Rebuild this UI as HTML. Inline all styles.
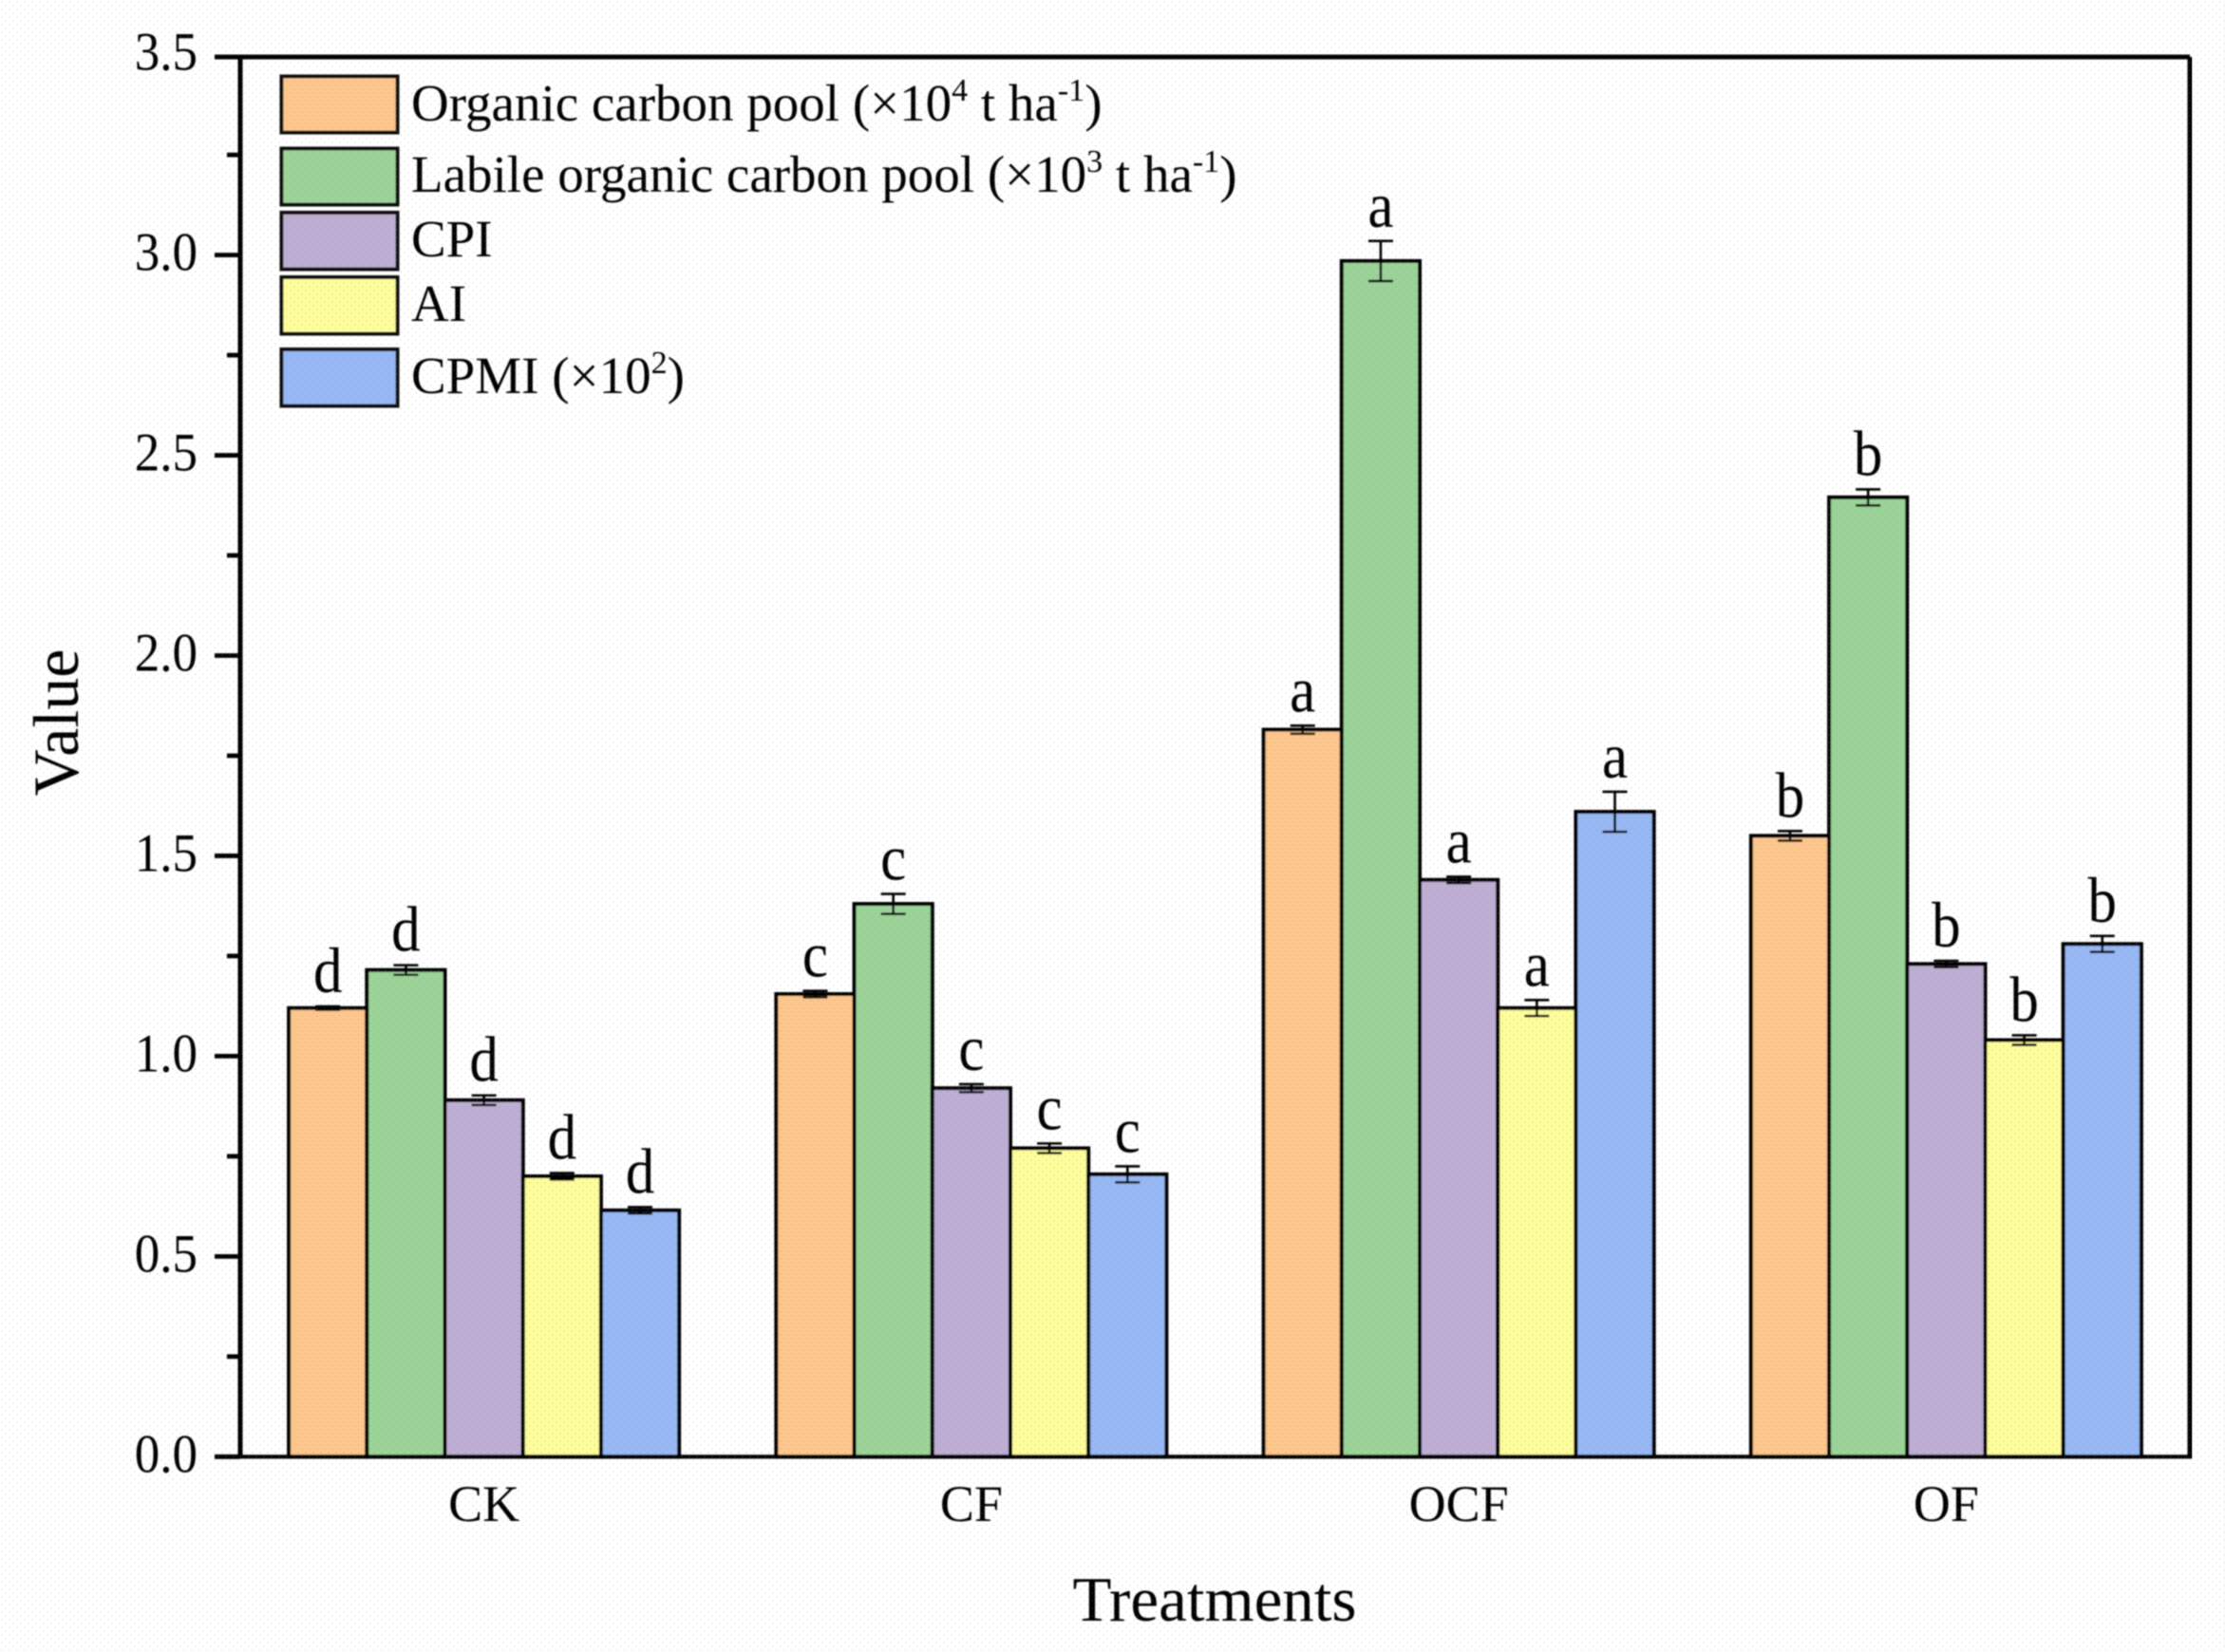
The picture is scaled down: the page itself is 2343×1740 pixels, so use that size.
<!DOCTYPE html>
<html lang="en">
<head>
<meta charset="utf-8">
<title>Carbon pool indices by treatment</title>
<style>
html,body{margin:0;padding:0;background:#fff;}
svg{display:block;}
text{font-family:"Liberation Serif","Times New Roman",serif;fill:#000;}
</style>
</head>
<body>
<svg id="chart" xmlns="http://www.w3.org/2000/svg" width="2343" height="1740" viewBox="0 0 2343 1740">
  <defs>
    <pattern id="dots" width="8" height="8" patternUnits="userSpaceOnUse">
      <circle cx="2" cy="2" r="1.1" fill="#8a8a8a" fill-opacity="0.11"/>
      <circle cx="6" cy="6" r="1.1" fill="#8a8a8a" fill-opacity="0.11"/>
    </pattern>
    <filter id="soft" x="0" y="0" width="100%" height="100%"><feGaussianBlur stdDeviation="0.7"/></filter>
  </defs>
  <rect width="2343" height="1740" fill="#ffffff"/>
  <g id="root" filter="url(#soft)">
    <g id="marks"></g>
    <g id="axes"></g>
    <g id="legend">
      <g>
        <rect x="296.5" y="80.5" width="122" height="59" fill="#fdc68c" stroke="#111" stroke-width="4"/>
        <text x="433" y="127" font-size="55">Organic carbon pool (×10<tspan dy="-21" font-size="34">4</tspan><tspan dy="21"> t ha</tspan><tspan dy="-21" font-size="34">-1</tspan><tspan dy="21">)</tspan></text>
      </g>
      <g>
        <rect x="296.5" y="156.5" width="122" height="59" fill="#9bd398" stroke="#111" stroke-width="4"/>
        <text x="433" y="202" font-size="55">Labile organic carbon pool (×10<tspan dy="-21" font-size="34">3</tspan><tspan dy="21"> t ha</tspan><tspan dy="-21" font-size="34">-1</tspan><tspan dy="21">)</tspan></text>
      </g>
      <g>
        <rect x="296.5" y="224" width="122" height="59.5" fill="#beaed4" stroke="#111" stroke-width="4"/>
        <text x="433" y="270" font-size="55">CPI</text>
      </g>
      <g>
        <rect x="296.5" y="292" width="122" height="59.5" fill="#fefd9c" stroke="#111" stroke-width="4"/>
        <text x="433" y="338" font-size="55">AI</text>
      </g>
      <g>
        <rect x="296.5" y="368" width="122" height="59.5" fill="#97b8f4" stroke="#111" stroke-width="4"/>
        <text x="433" y="414" font-size="55">CPMI (×10<tspan dy="-21" font-size="34">2</tspan><tspan dy="21">)</tspan></text>
      </g>
    </g>
    <text x="1279" y="1707" font-size="67" text-anchor="middle">Treatments</text>
    <text x="0" y="0" font-size="68" text-anchor="middle" transform="translate(82 761) rotate(-90)">Value</text>
  </g>
  <rect width="2343" height="1740" fill="url(#dots)" pointer-events="none"/>
</svg>
<script>
const categories = ["CK", "CF", "OCF", "OF"];
const seriesNames = ["organic", "labile", "cpi", "ai", "cpmi"];
const seriesColors = ["#fdc68c", "#9bd398", "#beaed4", "#fefd9c", "#97b8f4"];
const organicValues = [1.12, 1.155, 1.815, 1.55];
const labileValues = [1.215, 1.38, 2.985, 2.395];
const cpiValues = [0.89, 0.92, 1.44, 1.23];
const aiValues = [0.70, 0.77, 1.12, 1.04];
const cpmiValues = [0.615, 0.705, 1.61, 1.28];
const organicErrors = [0.004, 0.008, 0.010, 0.012];
const labileErrors = [0.012, 0.025, 0.050, 0.020];
const cpiErrors = [0.012, 0.010, 0.008, 0.008];
const aiErrors = [0.008, 0.012, 0.020, 0.012];
const cpmiErrors = [0.008, 0.020, 0.050, 0.020];
const organicLetters = ["d", "c", "a", "b"];
const labileLetters = ["d", "c", "a", "b"];
const cpiLetters = ["d", "c", "a", "b"];
const aiLetters = ["d", "c", "a", "b"];
const cpmiLetters = ["d", "c", "a", "b"];
const majorTicks = [0, 0.5, 1, 1.5, 2, 2.5, 3, 3.5];
const minorTicks = [0.25, 0.75, 1.25, 1.75, 2.25, 2.75, 3.25];
const allValues = [organicValues, labileValues, cpiValues, aiValues, cpmiValues];
const allErrors = [organicErrors, labileErrors, cpiErrors, aiErrors, cpmiErrors];
const allLetters = [organicLetters, labileLetters, cpiLetters, aiLetters, cpmiLetters];

const NS = "http://www.w3.org/2000/svg";
const plot = { left: 253, right: 2306, top: 60, bottom: 1534.3 };
const pxPerUnit = 421.9;
const barWidth = 82.2;
function yScale(v) { return plot.bottom - v * pxPerUnit; }
function categoryCenter(i) { return plot.left + (i + 0.5) * (plot.right - plot.left) / categories.length; }
function barLeft(i, s) { return categoryCenter(i) + (s - seriesNames.length / 2) * barWidth; }
function make(tag, attrs, parent) {
  const el = document.createElementNS(NS, tag);
  for (const k in attrs) el.setAttribute(k, attrs[k]);
  parent.appendChild(el);
  return el;
}
const marks = document.getElementById("marks");
const axes = document.getElementById("axes");

categories.forEach(function (cat, i) {
  seriesNames.forEach(function (name, s) {
    const v = allValues[s][i];
    const e = allErrors[s][i];
    const x = barLeft(i, s);
    const cx = x + barWidth / 2;
    const bar = make("rect", { x: x, y: yScale(v), width: barWidth, height: yScale(0) - yScale(v), fill: seriesColors[s], stroke: "#000", "stroke-width": 4 }, marks);
    
    
    const err = make("path", {
      d: "M" + (cx - 13) + " " + yScale(v + e) + "H" + (cx + 13) +
         "M" + cx + " " + yScale(v + e) + "V" + yScale(v - e) +
         "M" + (cx - 13) + " " + yScale(v - e) + "H" + (cx + 13),
      fill: "none", stroke: "#000", "stroke-width": 2.6
    }, marks);
    
    
    const lab = make("text", { transform: "translate(" + cx + " " + (yScale(v + e) - 15) + ") scale(1 1.12)", "font-size": 61, "text-anchor": "middle" }, marks);
    lab.textContent = allLetters[s][i];
    
    
  });
  const catTick = make("text", { x: categoryCenter(i), y: 1602, "font-size": 54, "text-anchor": "middle" }, axes);
  catTick.textContent = cat;
  
  
});

majorTicks.forEach(function (t) {
  const y = yScale(t);
  const tickY = Math.max(y, plot.top);
  const tick = make("line", { x1: 226, x2: plot.left, y1: tickY, y2: tickY, stroke: "#000", "stroke-width": 4.8 }, axes);
  
  
  const lab = make("text", { transform: "translate(208 " + (y + 16) + ") scale(1 1.08)", "font-size": 53, "text-anchor": "end" }, axes);
  lab.textContent = t.toFixed(1);
  
  
});
minorTicks.forEach(function (t) {
  const y = yScale(t);
  const tick = make("line", { x1: 239, x2: plot.left, y1: y, y2: y, stroke: "#000", "stroke-width": 4.8 }, axes);
  
  
});

const frameSides = make("path", {
  d: "M" + plot.left + " " + plot.top + "V" + plot.bottom + "M" + plot.right + " " + plot.top + "V" + plot.bottom +
     "M" + 226 + " " + plot.top + "H" + plot.right,
  fill: "none", stroke: "#000", "stroke-width": 5
}, axes);


const baseline = make("line", { x1: 226, x2: plot.right + 2.5, y1: plot.bottom, y2: plot.bottom, stroke: "#000", "stroke-width": 4.2 }, axes);


</script>
</body>
</html>
